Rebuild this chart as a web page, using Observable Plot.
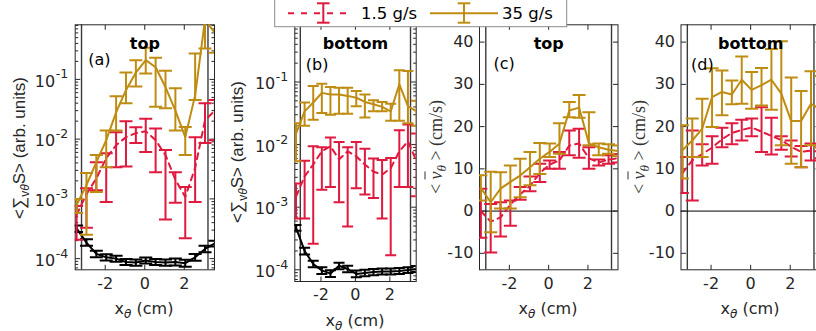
<!DOCTYPE html>
<html><head><meta charset="utf-8">
<script src="https://cdn.jsdelivr.net/npm/d3@7"></script>
<script src="https://cdn.jsdelivr.net/npm/@observablehq/plot@0.6"></script>
<style>
html,body{margin:0;padding:0;background:#fff;}
#wrap{position:relative;width:816px;height:331px;overflow:hidden;background:#fff;color:#262626;}
.lab{position:absolute;white-space:nowrap;transform:translate(-50%,-50%);font-size:16px;line-height:1;}
.rot{transform:translate(-50%,-50%) rotate(-90deg);}
.sans{font-family:"Liberation Sans",Arial,sans-serif;font-size:17px;}
.dv{font-family:"DejaVu Sans",sans-serif;}
.serif{font-family:"Liberation Serif","DejaVu Serif",serif;font-size:18px;color:#333;}
.lab sub{font-size:12px;vertical-align:-4px;}
.serif sub{font-size:13px;}
</style></head><body>
<div id="wrap"></div>
<script>
// ---------- shared axis data ----------
const xPos = [-3.45,-2.95,-2.45,-1.95,-1.45,-0.95,-0.45,0.05,0.55,1.05,1.55,2.05,2.55,3.05,3.55];
const xTicks = [-2, 0, 2];
const xTickLabels = ["-2", "0", "2"];
const logTicks = [1e-4, 1e-3, 1e-2, 1e-1];
const logExps = ["-4", "-3", "-2", "-1"];
const linTicks = [-10, 0, 10, 20, 30, 40];
const linTickLabels = ["-10", "0", "10", "20", "30", "40"];
const innerLines = [-3.2, 3.2];
const xDom = [-3.52, 3.53];
const logDom = [6.5e-5, 0.82];
const linDom = [-13.9, 44.1];
const seriesNames = ["1.5 g/s", "35 g/s"];

// ---------- panel (a) top, <Sigma S> ----------
const aBlack   = [3.2e-4,1.85e-4,1.2e-4,1.05e-4,1.0e-4,8.8e-5,8.6e-5,9.3e-5,8.8e-5,8.6e-5,8.8e-5,8.4e-5,1.05e-4,1.45e-4,1.8e-4];
const aBlackLo = [2.8e-4,1.65e-4,1.05e-4,9.3e-5,8.9e-5,7.8e-5,7.6e-5,8.3e-5,7.8e-5,7.6e-5,7.7e-5,7.3e-5,9.2e-5,1.28e-4,1.6e-4];
const aBlackHi = [3.6e-4,2.1e-4,1.35e-4,1.18e-4,1.12e-4,9.9e-5,9.7e-5,1.04e-4,9.9e-5,9.7e-5,1.0e-4,9.6e-5,1.2e-4,1.64e-4,2.0e-4];
const aRed     = [5.4e-4,1.2e-3,2.2e-3,4.8e-3,7.9e-3,1.08e-2,1.26e-2,1.36e-2,9.6e-3,5.4e-3,2.1e-3,1.08e-3,3.3e-3,2.07e-2,3.0e-2];
const aRedLo   = [2.07e-4,3.3e-4,1.4e-3,8.9e-4,3.4e-3,3.5e-3,8.6e-3,6.1e-3,2.8e-3,4.5e-4,8.6e-4,2.2e-4,8.9e-4,8.6e-3,9.6e-3];
const aRedHi   = [7.6e-4,1.5e-3,4.1e-3,5.8e-3,1.3e-2,2.0e-2,1.58e-2,2.2e-2,1.5e-2,6.6e-3,2.8e-3,1.58e-3,1.08e-2,4.0e-2,4.5e-2];
const aGold    = [7.9e-4,1.7e-3,4.1e-3,9.6e-3,2.8e-2,6.6e-2,0.13,0.21,0.16,7.4e-2,3.0e-2,1.08e-2,5.4e-2,1.0,0.6];
const aGoldLo  = [5.8e-4,2.5e-4,1.3e-3,3.4e-3,1.4e-2,4.0e-2,7.6e-2,0.126,3.5e-2,3.3e-2,1.4e-2,5.4e-3,4.5e-2,0.33,0.28];
const aGoldHi  = [1.0e-3,2.7e-3,5.4e-3,1.4e-2,5.2e-2,0.13,0.21,0.34,0.23,0.14,7.1e-2,1.6e-2,0.27,2.0,1.5];

// ---------- panel (b) bottom, <Sigma S> ----------
const bBlack   = [4.7e-4,2.0e-4,1.24e-4,9.8e-5,8.7e-5,1.16e-4,1.03e-4,8.6e-5,8.9e-5,9.2e-5,9.4e-5,9.4e-5,9.6e-5,9.9e-5,1.03e-4];
const bBlackLo = [4.2e-4,1.75e-4,1.1e-4,8.6e-5,7.7e-5,1.02e-4,9.1e-5,7.6e-5,7.9e-5,8.2e-5,8.4e-5,8.4e-5,8.6e-5,8.9e-5,9.2e-5];
const bBlackHi = [5.2e-4,2.25e-4,1.4e-4,1.1e-4,9.8e-5,1.3e-4,1.16e-4,9.7e-5,1.0e-4,1.03e-4,1.05e-4,1.05e-4,1.07e-4,1.1e-4,1.15e-4];
const bRed     = [1.48e-3,3.1e-3,4.8e-3,7.8e-3,9.4e-3,5.8e-3,7.8e-3,6.5e-3,4.8e-3,3.7e-3,3.3e-3,4.2e-3,7.8e-3,1.13e-2,5.4e-3];
const bRedLo   = [6.6e-4,6.6e-4,2.6e-4,1.9e-3,2.1e-3,1.2e-3,4.9e-4,2.0e-3,1.6e-3,1.4e-3,6.6e-4,1.7e-4,2.1e-3,2.1e-3,1.5e-3];
const bRedHi   = [2.4e-3,5.5e-3,9.4e-3,9.1e-3,1.3e-2,1.1e-2,9.1e-3,1.1e-2,8.6e-3,6.0e-3,5.7e-3,6.1e-3,1.7e-2,2.1e-2,1.5e-2];
const bGold    = [1.5e-2,3.4e-2,4.7e-2,6.7e-2,6.3e-2,6.3e-2,6.0e-2,5.6e-2,4.8e-2,4.4e-2,4.0e-2,3.4e-2,9.2e-2,4.1e-2,3.4e-2];
const bGoldLo  = [5.4e-3,2.0e-2,2.5e-2,3.2e-2,3.0e-2,3.1e-2,3.1e-2,4.1e-2,2.7e-2,3.4e-2,3.4e-2,2.4e-2,2.4e-2,2.2e-2,2.0e-2];
const bGoldHi  = [2.2e-2,4.7e-2,8.6e-2,9.4e-2,8.3e-2,8.1e-2,8.1e-2,7.2e-2,6.3e-2,5.1e-2,4.8e-2,4.5e-2,0.154,0.15,5.0e-2];

// ---------- panel (c) top, <v_theta> (cm/s) ----------
const cRed     = [0.0,-2.5,-1.5,1.5,4.0,6.0,9.0,11.0,12.0,15.5,16.0,12.5,11.5,12.2,12.5];
const cRedLo   = [-6.3,-9.8,-6.0,-3.5,2.7,4.7,6.9,10.0,10.0,13.2,12.6,10.0,10.8,11.2,11.5];
const cRedHi   = [5.3,1.7,2.1,2.5,5.7,8.2,11.2,12.0,14.0,19.1,19.5,15.1,12.2,13.2,13.5];
const cGold    = [5.5,2.1,5.3,6.9,8.4,10.4,12.4,14.0,16.0,23.8,24.5,16.0,15.1,14.5,14.2];
const cGoldLo  = [2.5,-5.0,0.6,0.6,3.3,6.1,8.8,12.8,13.6,22.2,22.1,15.6,13.2,13.6,13.0];
const cGoldHi  = [8.5,9.3,9.2,10.8,12.4,14.0,16.1,16.0,20.8,25.8,27.5,23.4,16.0,15.8,15.5];

// ---------- panel (d) bottom, <v_theta> (cm/s) ----------
const dRed     = [9.0,12.0,13.5,15.0,17.0,18.5,19.2,19.8,18.8,17.8,16.8,15.2,14.0,14.3,14.0];
const dRedLo   = [4.3,2.5,10.8,11.2,15.1,15.8,16.7,17.7,14.0,13.4,14.5,12.9,10.4,12.0,12.5];
const dRedHi   = [12.8,19.1,15.8,17.7,19.7,20.8,21.6,21.9,24.6,22.1,17.7,16.7,15.4,16.0,15.5];
const dGold    = [14.4,16.7,19.5,27.0,28.2,27.6,31.1,28.7,29.8,31.1,27.8,21.3,21.3,25.4,24.0];
const dGoldLo  = [7.7,12.8,12.8,19.9,22.7,25.3,25.4,24.2,25.0,24.0,15.6,11.2,10.4,15.6,15.0];
const dGoldHi  = [20.3,21.9,26.6,33.8,33.3,30.9,36.6,32.9,33.9,38.4,40.2,31.6,28.4,33.1,32.0];

// ---------- styling ----------
const RED = "#e0193f", GOLD = "#bf8c12", BLACK = "#000000", AX = "#262626";
const FONT = "DejaVu Sans";

const seg = (x1, y1, x2, y2) => ({draw(ctx) { ctx.moveTo(x1, y1); ctx.lineTo(x2, y2); }});
const rows = (v, lo, hi) => xPos.map((x, i) => ({x, v: v[i], lo: lo[i], hi: hi[i]}));

function seriesMarks(data, color, dash, hw) {
  return [
    Plot.line(data, {x: "x", y: "v", stroke: color, strokeWidth: 2, strokeDasharray: dash, clip: true}),
    Plot.ruleX(data, {x: "x", y1: "lo", y2: "hi", stroke: color, strokeWidth: 2, clip: true}),
    Plot.dot(data, {x: "x", y: "lo", symbol: seg(-hw, 0, hw, 0), stroke: color, strokeWidth: 2, fill: "none", clip: true}),
    Plot.dot(data, {x: "x", y: "hi", symbol: seg(-hw, 0, hw, 0), stroke: color, strokeWidth: 2, fill: "none", clip: true})
  ];
}

function makePanel(cfg) {
  const isLog = cfg.log;
  const yDom = isLog ? logDom : linDom;
  const marks = [];
  marks.push(Plot.ruleX(innerLines, {stroke: "#3a3a3a", strokeWidth: 1.4}));
  if (!isLog) marks.push(Plot.ruleY([0], {stroke: "#000", strokeWidth: 1}));
  // inward tick marks
  marks.push(Plot.dot(xTicks, {x: d => d, y: () => yDom[0], symbol: seg(0, 0, 0, -5), stroke: AX, strokeWidth: 1}));
  marks.push(Plot.dot(xTicks, {x: d => d, y: () => yDom[1], symbol: seg(0, 0, 0, 5), stroke: AX, strokeWidth: 1}));
  const yMajor = isLog ? logTicks : linTicks;
  marks.push(Plot.dot(yMajor, {x: () => xDom[0], y: d => d, symbol: seg(0, 0, 5, 0), stroke: AX, strokeWidth: 1}));
  marks.push(Plot.dot(yMajor, {x: () => xDom[1], y: d => d, symbol: seg(0, 0, -5, 0), stroke: AX, strokeWidth: 1}));
  if (isLog) {
    const minor = [];
    for (const p of logTicks.concat([1e-5])) for (let m = 2; m <= 9; m++) {
      const v = p * m; if (v > yDom[0] && v < yDom[1]) minor.push(v);
    }
    marks.push(Plot.dot(minor, {x: () => xDom[0], y: d => d, symbol: seg(0, 0, 3, 0), stroke: AX, strokeWidth: 1}));
    marks.push(Plot.dot(minor, {x: () => xDom[1], y: d => d, symbol: seg(0, 0, -3, 0), stroke: AX, strokeWidth: 1}));
  }
  marks.push(Plot.frame({stroke: AX, strokeWidth: 1}));
  // series
  for (const s of cfg.series) marks.push(...seriesMarks(s.data, s.color, s.dash, cfg.hw));
  // tick labels
  marks.push(Plot.text(xTicks, {x: d => d, frameAnchor: "bottom", dy: cfg.xLabDy, text: (d, i) => xTickLabels[i],
    fontFamily: FONT, fontSize: 16, fill: AX}));
  if (isLog) {
    marks.push(Plot.text(logTicks, {y: d => d, frameAnchor: "left", textAnchor: "end", dx: cfg.logDx, dy: 2,
      text: () => "10", fontFamily: FONT, fontSize: 16, fill: AX}));
    marks.push(Plot.text(logTicks, {y: d => d, frameAnchor: "left", textAnchor: "start", dx: cfg.logDx + 0.5, dy: -5,
      text: (d, i) => logExps[i], fontFamily: FONT, fontSize: 12.5, fill: AX}));
  } else {
    marks.push(Plot.text(linTicks, {y: d => d, frameAnchor: "left", textAnchor: "end", dx: -6,
      text: (d, i) => linTickLabels[i], fontFamily: FONT, fontSize: 16, fill: AX}));
  }
  marks.push(Plot.text([cfg.title], {frameAnchor: "top", dy: 13, fontWeight: "bold", fontFamily: FONT, fontSize: 16, fill: "#000"}));
  marks.push(Plot.text([cfg.tag], {frameAnchor: "top-left", textAnchor: "start", dx: cfg.tagDx, dy: cfg.tagDy,
    fontFamily: FONT, fontSize: 16, fill: "#000"}));
  const W = cfg.width || 816;
  return Plot.plot({
    width: W, height: 331,
    marginLeft: cfg.left, marginRight: W - cfg.right, marginTop: cfg.top, marginBottom: 331 - cfg.bottom,
    x: {domain: xDom, axis: null},
    y: {type: isLog ? "log" : "linear", domain: yDom, axis: null},
    style: {position: "absolute", left: "0px", top: "0px", background: "transparent", maxWidth: "none", overflow: "visible"},
    marks
  });
}

const wrap = document.getElementById("wrap");
const panels = [
  {log: true, left: 74.7, right: 214, top: 24.3, bottom: 269.3, hw: 6.5, xLabDy: 19, logDx: -20,
   title: "top", tag: "(a)", tagDx: 13, tagDy: 29,
   series: [{data: rows(aBlack, aBlackLo, aBlackHi), color: BLACK},
            {data: rows(aRed, aRedLo, aRedHi), color: RED, dash: "6,5"},
            {data: rows(aGold, aGoldLo, aGoldHi), color: GOLD}]},
  {log: true, left: 294.3, right: 415.7, top: 24.3, bottom: 281, hw: 5.5, xLabDy: 18, logDx: -19.5,
   title: "bottom", tag: "(b)", tagDx: 11, tagDy: 34,
   series: [{data: rows(bBlack, bBlackLo, bBlackHi), color: BLACK},
            {data: rows(bRed, bRedLo, bRedHi), color: RED, dash: "6,5"},
            {data: rows(bGold, bGoldLo, bGoldHi), color: GOLD}]},
  {log: false, left: 479, right: 617.5, top: 24.3, bottom: 269.3, hw: 6.5, xLabDy: 19,
   title: "top", tag: "(c)", tagDx: 14, tagDy: 33,
   series: [{data: rows(cRed, cRedLo, cRedHi), color: RED, dash: "6,5"},
            {data: rows(cGold, cGoldLo, cGoldHi), color: GOLD}]},
  {log: false, left: 680.5, right: 820, top: 24.3, bottom: 269.3, hw: 6.5, xLabDy: 19, width: 826,
   title: "bottom", tag: "(d)", tagDx: 10, tagDy: 34,
   series: [{data: rows(dRed, dRedLo, dRedHi), color: RED, dash: "6,5"},
            {data: rows(dGold, dGoldLo, dGoldHi), color: GOLD}]}
];
for (const p of panels) wrap.appendChild(makePanel(p));

// axis titles (HTML text)
const sumLab = '&lt;∑<sub>v<i>θ</i></sub>S&gt; (arb. units)';
const vLab = '&lt; <i style="text-decoration:overline">v</i><sub><i>θ</i></sub> &gt; (cm/s)';
const xLab = 'x<sub><i>θ</i></sub> (cm)';
const labels = [
  {cls: "lab rot sans", x: 21, y: 148, html: sumLab},
  {cls: "lab rot sans", x: 239, y: 152, html: sumLab},
  {cls: "lab rot serif", x: 437, y: 147, html: vLab},
  {cls: "lab rot serif", x: 640, y: 147, html: vLab},
  {cls: "lab dv", x: 144, y: 310, html: xLab},
  {cls: "lab dv", x: 355, y: 322, html: xLab},
  {cls: "lab dv", x: 548, y: 310, html: xLab},
  {cls: "lab dv", x: 750, y: 310, html: xLab}
];
for (const l of labels) {
  const d = document.createElement("div");
  d.className = l.cls; d.style.left = l.x + "px"; d.style.top = l.y + "px"; d.innerHTML = l.html;
  wrap.appendChild(d);
}

// legend
const NS = "http://www.w3.org/2000/svg";
const lg = document.createElementNS(NS, "svg");
lg.setAttribute("width", 816); lg.setAttribute("height", 40);
lg.style.position = "absolute"; lg.style.left = "0px"; lg.style.top = "0px";
lg.innerHTML = `
  <rect x="274.7" y="-1" width="292" height="27.7" fill="#fff" stroke="#8a8a8a" stroke-width="1"/>
  <line x1="288" y1="13.3" x2="350" y2="13.3" stroke="${RED}" stroke-width="2" stroke-dasharray="6,7"/>
  <line x1="323.3" y1="3.3" x2="323.3" y2="22.7" stroke="${RED}" stroke-width="2"/>
  <line x1="317" y1="3.3" x2="329.6" y2="3.3" stroke="${RED}" stroke-width="2"/>
  <line x1="317" y1="22.7" x2="329.6" y2="22.7" stroke="${RED}" stroke-width="2"/>
  <text x="361" y="13.5" dominant-baseline="central" font-family="DejaVu Sans" font-size="16.5" fill="#000">${seriesNames[0]}</text>
  <line x1="430" y1="13.3" x2="498" y2="13.3" stroke="${GOLD}" stroke-width="2"/>
  <line x1="464" y1="3.3" x2="464" y2="22.7" stroke="${GOLD}" stroke-width="2"/>
  <line x1="457.7" y1="3.3" x2="470.3" y2="3.3" stroke="${GOLD}" stroke-width="2"/>
  <line x1="457.7" y1="22.7" x2="470.3" y2="22.7" stroke="${GOLD}" stroke-width="2"/>
  <text x="502" y="13.5" dominant-baseline="central" font-family="DejaVu Sans" font-size="16.5" fill="#000">${seriesNames[1]}</text>`;
wrap.appendChild(lg);
</script>
</body></html>
